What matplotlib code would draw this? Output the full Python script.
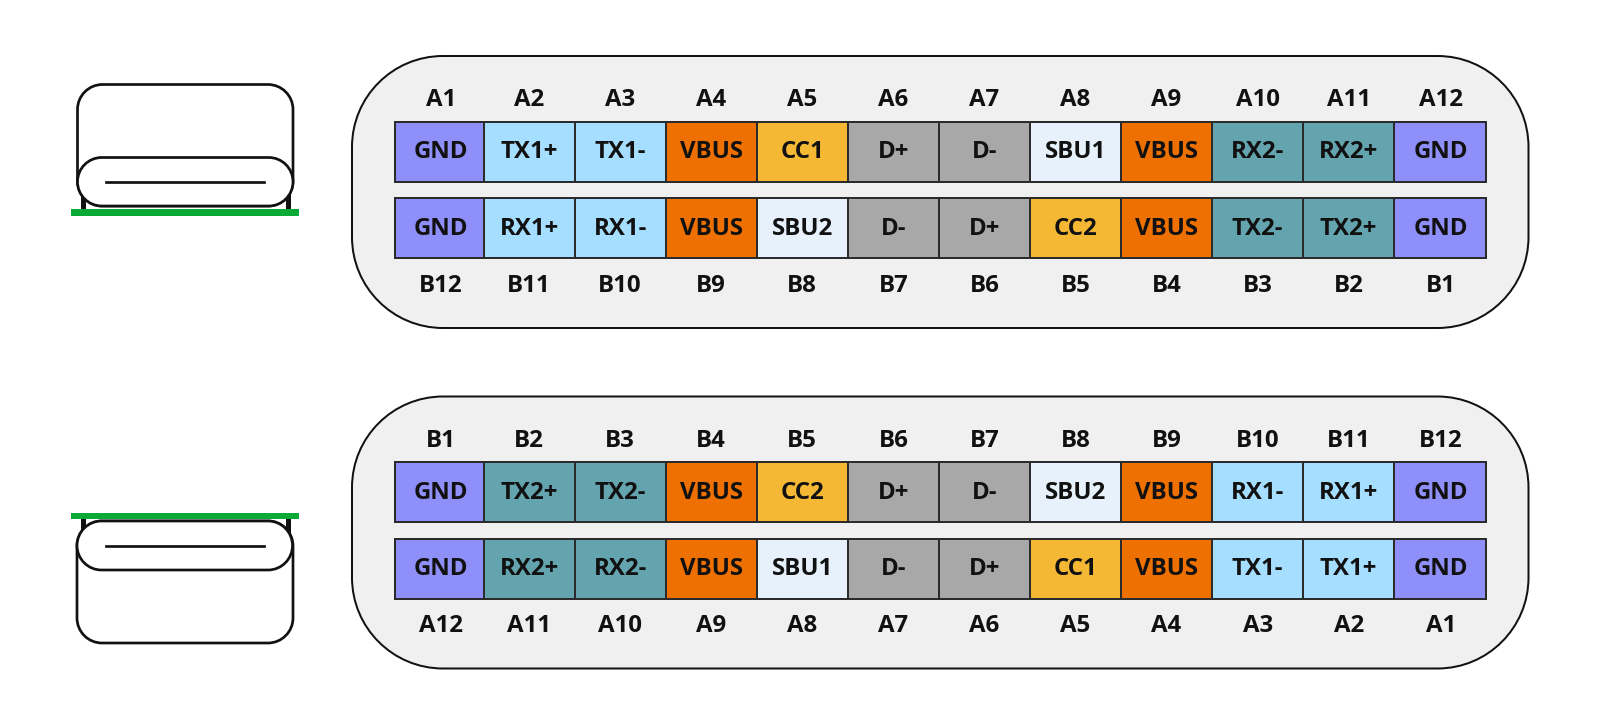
import matplotlib
matplotlib.use('Agg')
import matplotlib.pyplot as plt
from matplotlib.patches import PathPatch, Rectangle
from matplotlib.path import Path

plt.rcParams['font.family'] = ['Open Sans', 'DejaVu Sans']

# pin rows, left to right
top_pins_1 = ['A1', 'A2', 'A3', 'A4', 'A5', 'A6', 'A7', 'A8', 'A9', 'A10', 'A11', 'A12']
top_sigs_1 = ['GND', 'TX1+', 'TX1-', 'VBUS', 'CC1', 'D+', 'D-', 'SBU1', 'VBUS', 'RX2-', 'RX2+', 'GND']
bot_sigs_1 = ['GND', 'RX1+', 'RX1-', 'VBUS', 'SBU2', 'D-', 'D+', 'CC2', 'VBUS', 'TX2-', 'TX2+', 'GND']
bot_pins_1 = ['B12', 'B11', 'B10', 'B9', 'B8', 'B7', 'B6', 'B5', 'B4', 'B3', 'B2', 'B1']

top_pins_2 = ['B1', 'B2', 'B3', 'B4', 'B5', 'B6', 'B7', 'B8', 'B9', 'B10', 'B11', 'B12']
top_sigs_2 = ['GND', 'TX2+', 'TX2-', 'VBUS', 'CC2', 'D+', 'D-', 'SBU2', 'VBUS', 'RX1-', 'RX1+', 'GND']
bot_sigs_2 = ['GND', 'RX2+', 'RX2-', 'VBUS', 'SBU1', 'D-', 'D+', 'CC1', 'VBUS', 'TX1-', 'TX1+', 'GND']
bot_pins_2 = ['A12', 'A11', 'A10', 'A9', 'A8', 'A7', 'A6', 'A5', 'A4', 'A3', 'A2', 'A1']

colors = {'GND': '#8f8ffa', 'VBUS': '#ed7000', 'D+': '#a8a8a8', 'D-': '#a8a8a8',
          'CC1': '#f4b834', 'CC2': '#f4b834', 'SBU1': '#e6f1fb', 'SBU2': '#e6f1fb',
          'TX1+': '#a6deff', 'TX1-': '#a6deff', 'RX1+': '#a6deff', 'RX1-': '#a6deff',
          'TX2+': '#64a4af', 'TX2-': '#64a4af', 'RX2+': '#64a4af', 'RX2-': '#64a4af'}

ink = '#111111'
green = '#0baa36'
cell_x = 395
cell_end = 1486
first_sep = 483.5
cell_w = 91.07
cell_h = 60
panel_shift = 340.5
font_size = 17.3


def px(n):
    return n * 72 / 100


def rrect(ax, x0, y0, x1, y1, r, fc, ec, lw, z):
    # circular corners, FancyBboxPatch corners come out too tight
    k = r * 0.4477
    verts = [(x0 + r, y0), (x1 - r, y0),
             (x1 - k, y0), (x1, y0 + k), (x1, y0 + r),
             (x1, y1 - r),
             (x1, y1 - k), (x1 - k, y1), (x1 - r, y1),
             (x0 + r, y1),
             (x0 + k, y1), (x0, y1 - k), (x0, y1 - r),
             (x0, y0 + r),
             (x0, y0 + k), (x0 + k, y0), (x0 + r, y0),
             (x0 + r, y0)]
    codes = [Path.MOVETO, Path.LINETO,
             Path.CURVE4, Path.CURVE4, Path.CURVE4,
             Path.LINETO,
             Path.CURVE4, Path.CURVE4, Path.CURVE4,
             Path.LINETO,
             Path.CURVE4, Path.CURVE4, Path.CURVE4,
             Path.LINETO,
             Path.CURVE4, Path.CURVE4, Path.CURVE4,
             Path.CLOSEPOLY]
    ax.add_patch(PathPatch(Path(verts, codes), fc=fc, ec=ec, lw=px(lw), zorder=z))


def draw_panel(ax, dy, top_pins, top_sigs, bot_sigs, bot_pins):
    rrect(ax, 352, 56 + dy, 1528.5, 328 + dy, 91, '#f0f0f0', ink, 2, 1)
    # outer columns are not the same width as the inner ones
    edges = [cell_x] + [first_sep + cell_w * k for k in range(11)] + [cell_end]
    for i in range(12):
        x0, x1 = edges[i], edges[i + 1]
        xc = (x0 + x1) / 2
        # labels in the end columns sit a bit right of the cell centre
        if i == 0:
            xc += 1.7
        elif i == 11:
            xc += 0.7
        ax.text(xc, 106 + dy, top_pins[i], ha='center', va='baseline', fontsize=font_size, fontweight='bold', color=ink, zorder=5)
        ax.text(xc, 291.5 + dy, bot_pins[i], ha='center', va='baseline', fontsize=font_size, fontweight='bold', color=ink, zorder=5)
        for y0, sigs in ((121.5 + dy, top_sigs), (198 + dy, bot_sigs)):
            ax.add_patch(Rectangle((x0, y0), x1 - x0, cell_h, fc=colors[sigs[i]],
                                   ec='#2b2b2b', lw=px(2), zorder=2))
            ax.text(xc, y0 + 36.5, sigs[i], ha='center', va='baseline', fontsize=font_size, fontweight='bold', color=ink, zorder=5)


def draw_connector_down(ax):
    # stubs behind the body, then body, plug and pcb
    ax.plot([82.5, 82.5], [190, 210], color=ink, lw=px(5), solid_capstyle='butt', zorder=1)
    ax.plot([287.5, 287.5], [190, 210], color=ink, lw=px(5), solid_capstyle='butt', zorder=1)
    rrect(ax, 77.5, 84.5, 293, 206, 25, 'white', ink, 2.7, 2)
    rrect(ax, 77.5, 157.5, 293, 206, 24.25, 'white', ink, 2.7, 3)
    ax.plot([106, 264], [182, 182], color=ink, lw=px(2.7), zorder=4)
    ax.add_patch(Rectangle((71, 209), 228, 6.5, fc=green, ec='none', zorder=5))


def draw_connector_up(ax):
    ax.plot([82.5, 82.5], [515, 535], color=ink, lw=px(5), solid_capstyle='butt', zorder=1)
    ax.plot([287.5, 287.5], [515, 535], color=ink, lw=px(5), solid_capstyle='butt', zorder=1)
    rrect(ax, 77, 521, 293, 643, 25, 'white', ink, 2.7, 2)
    rrect(ax, 77, 521, 292.5, 570, 24.5, 'white', ink, 2.7, 3)
    ax.plot([106, 264], [545.5, 545.5], color=ink, lw=px(2.7), zorder=4)
    ax.add_patch(Rectangle((71, 512.5), 228, 6.5, fc=green, ec='none', zorder=5))


fig = plt.figure(figsize=(16, 7.25), dpi=100)
ax = fig.add_axes([0, 0, 1, 1])
ax.set_xlim(0, 1600)
ax.set_ylim(725, 0)
ax.axis('off')

draw_panel(ax, 0, top_pins_1, top_sigs_1, bot_sigs_1, bot_pins_1)
draw_panel(ax, panel_shift, top_pins_2, top_sigs_2, bot_sigs_2, bot_pins_2)
draw_connector_down(ax)
draw_connector_up(ax)

plt.savefig('out.png', dpi=100)
